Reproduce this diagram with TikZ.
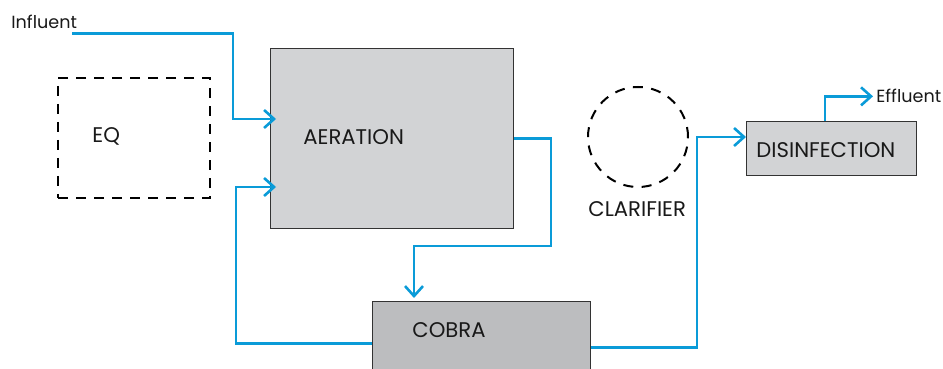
\documentclass[tikz,border=0pt]{standalone}
\usepackage{fontspec}
\setmainfont{Poppins}
\usetikzlibrary{positioning, arrows.meta}
\definecolor{flowblue}{HTML}{0A9BD8}
\definecolor{tankgray}{HTML}{D2D3D5}
\definecolor{cobragray}{HTML}{BCBDBF}
\tikzset{
	x=0.5pt, y=-0.5pt,
	every node/.style={font=\fontsize{10.6}{12}\selectfont},
	tank/.style={
		rectangle,
		draw=black!80,
		line width=0.5pt,
		fill=tankgray,
		anchor=north west,
		inner sep=0
	},
	eqtank/.style={
		rectangle,
		draw=black,
		line width=1pt,
		dash pattern=on 5pt off 4pt,
		anchor=north west,
		inner sep=0
	},
	clartank/.style={circle, draw=black, line width=1pt, dash pattern=on 5pt off 4.2pt, inner sep=0},
	flow/.style={draw=flowblue, line width=1.3pt, -{Straight Barb[length=5pt, width=9pt]}},
	tag/.style={anchor=base west, inner sep=0, text=black!90},
	endtag/.style={tag, font=\fontsize{8.8}{10}\selectfont},
}

\begin{document}
\begin{tikzpicture}
		\clip (0,0) rectangle (943,369);
		
		\node (eq) [eqtank, minimum width=76pt, minimum height=60pt] at (57,77) {};
		\node (aeration) [tank, minimum width=121.5pt, minimum height=90pt] at (270,48) {};
		\node (cobra) [tank, fill=cobragray, minimum width=109pt, minimum height=42pt] at (372,301) {};
		\node (clarifier) [clartank, minimum size=50pt] at (638,137) {};
		\node (disinfection) [tank, minimum width=85pt, minimum height=27pt] at (746,121) {};
		
		\node (influent) [endtag] at (11,29) {Influent};
		\node (eqlbl) [tag] at (92,143) {EQ};
		\node (aerationlbl) [tag] at (303,145) {AERATION};
		\node (cobralbl) [tag] at (412,337) {COBRA};
		\node (clarifierlbl) [tag] at (588,216) {CLARIFIER};
		\node (disinfectionlbl) [tag] at (756,158) {DISINFECTION};
		\node (effluent) [endtag] at (876,103) {Effluent};
		
		\coordinate (inbend) at (233,119);
		\coordinate (recbend) at (236,187);
		\coordinate (aerbend) at (551,246);
		\coordinate (cobrain) at (414,246);
		\coordinate (disbend) at (697,137);
		\coordinate (effbend) at (825,96);
		
		\draw[flow, shorten >=-3pt] ([shift={(-2.5pt,-2pt)}]influent.south east) -| (inbend) -- (inbend -| aeration.west);
		\draw[flow, shorten >=-3pt] (cobra.west) -| (recbend) -- (recbend -| aeration.west);
		\draw[flow, shorten >=1.5pt] (aeration.east) -| (aerbend) -- (cobrain) -- (cobrain |- cobra.north);
		\draw[flow] ([yshift=-2pt]cobra.east) -| (disbend) -- (disbend -| disinfection.west);
		\draw[flow, shorten >=1.5pt] (effbend |- disinfection.north) |- (effluent.west);
\end{tikzpicture}
\end{document}
